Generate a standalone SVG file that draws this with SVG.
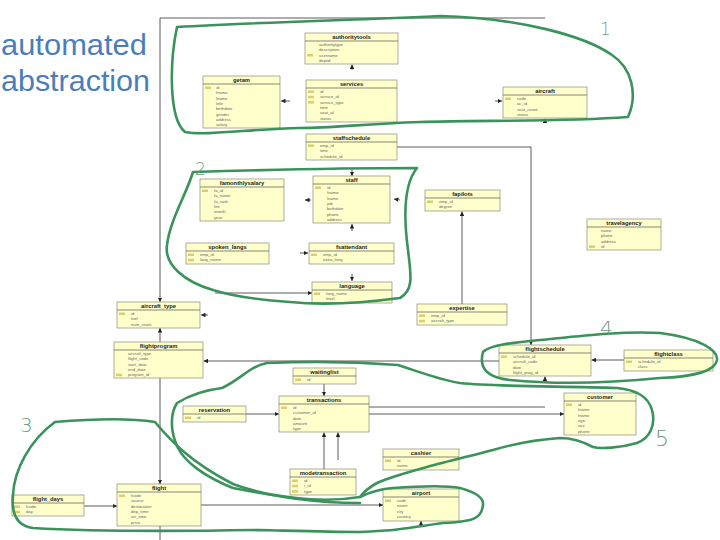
<svg xmlns="http://www.w3.org/2000/svg" width="720" height="540" viewBox="0 0 720 540">
<style>
.b{fill:#ffffcc;stroke:#8c8c78;stroke-width:.7}
.hd{stroke:#555;stroke-width:.7}
.t{font-family:"Liberation Sans",Arial,sans-serif;font-weight:bold;font-size:5.8px;fill:#222;text-anchor:middle}
.a{font-family:"Liberation Sans",Arial,sans-serif;font-size:4.2px;fill:#666}
.k{fill:#dccd70}
.c{fill:none;stroke:#333;stroke-width:.8}
.g{fill:none;stroke:#3a935a;stroke-width:2.6;stroke-linejoin:round;stroke-linecap:round}
.n{font-family:"DejaVu Sans",sans-serif;font-weight:300;fill:#6f9a80}
</style>
<defs>
<marker id="ar" viewBox="0 0 8 8" refX="8" refY="4" markerWidth="4.5" markerHeight="4.5" orient="auto-start-reverse" markerUnits="userSpaceOnUse"><path d="M0,0 L8,4 L0,8 z" fill="#222"/></marker>
</defs>
<rect width="720" height="540" fill="#fff"/>
<text x="1" y="55" font-family="Liberation Sans,Arial,sans-serif" font-size="30" fill="#4a7ebb" textLength="146" lengthAdjust="spacingAndGlyphs">automated</text>
<text x="1" y="91" font-family="Liberation Sans,Arial,sans-serif" font-size="30" fill="#4a7ebb" textLength="149" lengthAdjust="spacingAndGlyphs">abstraction</text>

<g id="connectors">
<path class="c" d="M545,18 L160,18 L160,302" marker-end="url(#ar)"/>
<path class="c" d="M160,342 L160,328" marker-end="url(#ar)"/>
<path class="c" d="M160,378 L160,484" marker-end="url(#ar)"/>
<path class="c" d="M160,526 L160,540"/>
<path class="c" d="M352,70 L352,64.5" marker-end="url(#ar)"/>
<path class="c" d="M290,101 L281,101" marker-end="url(#ar)"/>
<path class="c" d="M495,101 L502,101" marker-end="url(#ar)"/>
<path class="c" d="M545,123 L545,118.5" marker-end="url(#ar)"/>
<path class="c" d="M397,147 L531,147 L531,345" marker-end="url(#ar)"/>
<path class="c" d="M352,168 L352,176" marker-end="url(#ar)"/>
<path class="c" d="M311,200 L305,200" marker-end="url(#ar)"/>
<path class="c" d="M400,200 L394,199" marker-end="url(#ar)"/>
<path class="c" d="M352,231 L352,224" marker-end="url(#ar)"/>
<path class="c" d="M462,304 L462,211.5" marker-end="url(#ar)"/>
<path class="c" d="M300,253 L308,253" marker-end="url(#ar)"/>
<path class="c" d="M352,274 L352,281" marker-end="url(#ar)"/>
<path class="c" d="M215,293 L312,293" marker-end="url(#ar)"/>
<path class="c" d="M208,315 L201,315" marker-end="url(#ar)"/>
<path class="c" d="M499,361 L203.5,361" marker-end="url(#ar)"/>
<path class="c" d="M624,360 L591.5,360" marker-end="url(#ar)"/>
<path class="c" d="M545,383 L545,376.5" marker-end="url(#ar)"/>
<path class="c" d="M324,384 L324,396" marker-end="url(#ar)"/>
<path class="c" d="M246,414 L279,414" marker-end="url(#ar)"/>
<path class="c" d="M369,407 L545,407"/>
<path class="c" d="M369,414 L564,414" marker-end="url(#ar)"/>
<path class="c" d="M324,469 L324,432.5" marker-end="url(#ar)"/>
<path class="c" d="M338,460 L338,432.5" marker-end="url(#ar)"/>
<path class="c" d="M84,506 L117,506" marker-end="url(#ar)"/>
<path class="c" d="M201,505 L383,505" marker-end="url(#ar)"/>
<path class="c" d="M421,527 L421,521" marker-end="url(#ar)"/>
</g>

<g id="authoritytools"><rect class="b" x="305" y="33" width="93" height="31"/><line class="hd" x1="305" y1="41" x2="398" y2="41"/><text class="t" x="351.5" y="39">authoritytools</text><text class="a" x="319" y="46">authoritytype</text><text class="a" x="319" y="51.3">description</text><rect class="k" x="307" y="54" width="6" height="2.5"/><text class="a" x="319" y="56.6">username</text><text class="a" x="319" y="61.9">deptid</text></g>

<g id="getam"><rect class="b" x="203" y="76" width="77" height="52"/><line class="hd" x1="203" y1="84" x2="280" y2="84"/><text class="t" x="241.5" y="82">getam</text><rect class="k" x="205" y="86.5" width="6" height="2.5"/><text class="a" x="216" y="89">id</text><text class="a" x="216" y="94.3">fname</text><text class="a" x="216" y="99.6">lname</text><text class="a" x="216" y="104.9">tele</text><text class="a" x="216" y="110.2">birthdate</text><text class="a" x="216" y="115.5">gender</text><text class="a" x="216" y="120.8">address</text><text class="a" x="216" y="126.1">salary</text></g>

<g id="services"><rect class="b" x="306" y="80" width="91" height="42"/><line class="hd" x1="306" y1="88" x2="397" y2="88"/><text class="t" x="351.5" y="86">services</text><rect class="k" x="308" y="90.5" width="6" height="2.5"/><text class="a" x="320" y="93">id</text><rect class="k" x="308" y="95.8" width="6" height="2.5"/><text class="a" x="320" y="98.3">service_id</text><rect class="k" x="308" y="101.1" width="6" height="2.5"/><text class="a" x="320" y="103.6">service_type</text><text class="a" x="320" y="108.9">time</text><text class="a" x="320" y="114.2">seat_id</text><text class="a" x="320" y="119.5">status</text></g>

<g id="aircraft"><rect class="b" x="503" y="87" width="84" height="31"/><line class="hd" x1="503" y1="95" x2="587" y2="95"/><text class="t" x="545" y="93">aircraft</text><rect class="k" x="505" y="97.5" width="6" height="2.5"/><text class="a" x="517" y="100">code</text><text class="a" x="517" y="105.3">ac_id</text><text class="a" x="517" y="110.6">seat_count</text><text class="a" x="517" y="115.9">status</text></g>

<g id="staffschedule"><rect class="b" x="306" y="134" width="91" height="26"/><line class="hd" x1="306" y1="142" x2="397" y2="142"/><text class="t" x="351.5" y="140">staffschedule</text><rect class="k" x="308" y="144.5" width="6" height="2.5"/><text class="a" x="320" y="147">emp_id</text><text class="a" x="320" y="152.3">time</text><text class="a" x="320" y="157.6">schedule_id</text></g>

<g id="staff"><rect class="b" x="313" y="176" width="77" height="47"/><line class="hd" x1="313" y1="184" x2="390" y2="184"/><text class="t" x="351.5" y="182">staff</text><rect class="k" x="315" y="186.5" width="6" height="2.5"/><text class="a" x="327" y="189">id</text><text class="a" x="327" y="194.3">fname</text><text class="a" x="327" y="199.6">lname</text><text class="a" x="327" y="204.9">job</text><text class="a" x="327" y="210.2">birthdate</text><text class="a" x="327" y="215.5">phone</text><text class="a" x="327" y="220.8">address</text></g>

<g id="famonthlysalary"><rect class="b" x="200" y="179" width="84" height="42"/><line class="hd" x1="200" y1="187" x2="284" y2="187"/><text class="t" x="242" y="185">famonthlysalary</text><rect class="k" x="202" y="189.5" width="6" height="2.5"/><text class="a" x="214" y="192">fa_id</text><text class="a" x="214" y="197.3">fa_name</text><text class="a" x="214" y="202.6">fa_rank</text><text class="a" x="214" y="207.9">fee</text><text class="a" x="214" y="213.2">month</text><text class="a" x="214" y="218.5">year</text></g>

<g id="fapilots"><rect class="b" x="425" y="190" width="75" height="21"/><line class="hd" x1="425" y1="198" x2="500" y2="198"/><text class="t" x="462.5" y="196">fapilots</text><rect class="k" x="427" y="200.5" width="6" height="2.5"/><text class="a" x="439" y="203">emp_id</text><text class="a" x="439" y="208.3">degree</text></g>

<g id="travelagency"><rect class="b" x="587" y="219" width="74" height="31"/><line class="hd" x1="587" y1="227" x2="661" y2="227"/><text class="t" x="624" y="225">travelagency</text><text class="a" x="601" y="232">name</text><text class="a" x="601" y="237.3">phone</text><text class="a" x="601" y="242.6">address</text><rect class="k" x="589" y="245.4" width="6" height="2.5"/><text class="a" x="601" y="247.9">id</text></g>

<g id="spoken_langs"><rect class="b" x="186" y="243" width="83" height="21"/><line class="hd" x1="186" y1="251" x2="269" y2="251"/><text class="t" x="227.5" y="249">spoken_langs</text><rect class="k" x="188" y="253.5" width="6" height="2.5"/><text class="a" x="200" y="256">emp_id</text><rect class="k" x="188" y="258.8" width="6" height="2.5"/><text class="a" x="200" y="261.3">lang_name</text></g>

<g id="fsattendant"><rect class="b" x="309" y="243" width="85" height="21"/><line class="hd" x1="309" y1="251" x2="394" y2="251"/><text class="t" x="351.5" y="249">fsattendant</text><rect class="k" x="311" y="253.5" width="6" height="2.5"/><text class="a" x="323" y="256">emp_id</text><text class="a" x="323" y="261.3">extra_lang</text></g>

<g id="language"><rect class="b" x="312" y="282" width="80" height="21"/><line class="hd" x1="312" y1="290" x2="392" y2="290"/><text class="t" x="352" y="288">language</text><rect class="k" x="314" y="292.5" width="6" height="2.5"/><text class="a" x="326" y="295">lang_name</text><text class="a" x="326" y="300.3">level</text></g>

<g id="expertise"><rect class="b" x="417" y="304" width="90" height="21"/><line class="hd" x1="417" y1="312" x2="507" y2="312"/><text class="t" x="462" y="310">expertise</text><rect class="k" x="419" y="314.5" width="6" height="2.5"/><text class="a" x="431" y="317">emp_id</text><rect class="k" x="419" y="319.8" width="6" height="2.5"/><text class="a" x="431" y="322.3">aircraft_type</text></g>

<g id="aircraft_type"><rect class="b" x="117" y="302" width="83" height="26"/><line class="hd" x1="117" y1="310" x2="200" y2="310"/><text class="t" x="158.5" y="308">aircraft_type</text><rect class="k" x="119" y="312.5" width="6" height="2.5"/><text class="a" x="131" y="315">id</text><text class="a" x="131" y="320.3">fuel</text><text class="a" x="131" y="325.6">num_seats</text></g>

<g id="flightprogram"><rect class="b" x="114" y="342" width="89" height="36"/><line class="hd" x1="114" y1="350" x2="203" y2="350"/><text class="t" x="158.5" y="348">flightprogram</text><text class="a" x="128" y="355">aircraft_type</text><text class="a" x="128" y="360.3">flight_code</text><text class="a" x="128" y="365.6">start_date</text><text class="a" x="128" y="370.9">end_date</text><rect class="k" x="116" y="373.7" width="6" height="2.5"/><text class="a" x="128" y="376.2">program_id</text></g>

<g id="flightschedule"><rect class="b" x="499" y="345" width="92" height="31"/><line class="hd" x1="499" y1="353" x2="591" y2="353"/><text class="t" x="545" y="351">flightschedule</text><rect class="k" x="501" y="355.5" width="6" height="2.5"/><text class="a" x="513" y="358">schedule_id</text><text class="a" x="513" y="363.3">aircraft_code</text><text class="a" x="513" y="368.6">date</text><text class="a" x="513" y="373.9">flight_prog_id</text></g>

<g id="flightclass"><rect class="b" x="624" y="350" width="89" height="21"/><line class="hd" x1="624" y1="358" x2="713" y2="358"/><text class="t" x="668.5" y="356">flightclass</text><rect class="k" x="626" y="360.5" width="6" height="2.5"/><text class="a" x="638" y="363">schedule_id</text><text class="a" x="638" y="368.3">class</text></g>

<g id="waitinglist"><rect class="b" x="293" y="368" width="63" height="16"/><line class="hd" x1="293" y1="376" x2="356" y2="376"/><text class="t" x="324.5" y="374">waitinglist</text><rect class="k" x="295" y="378.5" width="6" height="2.5"/><text class="a" x="307" y="381">id</text></g>

<g id="transactions"><rect class="b" x="279" y="396" width="90" height="36"/><line class="hd" x1="279" y1="404" x2="369" y2="404"/><text class="t" x="324" y="402">transactions</text><rect class="k" x="281" y="406.5" width="6" height="2.5"/><text class="a" x="293" y="409">id</text><text class="a" x="293" y="414.3">customer_id</text><text class="a" x="293" y="419.6">date</text><text class="a" x="293" y="424.9">amount</text><text class="a" x="293" y="430.2">type</text></g>

<g id="reservation"><rect class="b" x="183" y="406" width="63" height="16"/><line class="hd" x1="183" y1="414" x2="246" y2="414"/><text class="t" x="214.5" y="412">reservation</text><rect class="k" x="185" y="416.5" width="6" height="2.5"/><text class="a" x="197" y="419">id</text></g>

<g id="customer"><rect class="b" x="564" y="393" width="72" height="42"/><line class="hd" x1="564" y1="401" x2="636" y2="401"/><text class="t" x="600" y="399">customer</text><rect class="k" x="566" y="403.5" width="6" height="2.5"/><text class="a" x="578" y="406">id</text><text class="a" x="578" y="411.3">fname</text><text class="a" x="578" y="416.6">lname</text><text class="a" x="578" y="421.9">age</text><text class="a" x="578" y="427.2">sex</text><text class="a" x="578" y="432.5">phone</text></g>

<g id="cashier"><rect class="b" x="383" y="449" width="76" height="21"/><line class="hd" x1="383" y1="457" x2="459" y2="457"/><text class="t" x="421" y="455">cashier</text><rect class="k" x="385" y="459.5" width="6" height="2.5"/><text class="a" x="397" y="462">id</text><text class="a" x="397" y="467.3">name</text></g>

<g id="modetransaction"><rect class="b" x="290" y="469" width="66" height="26"/><line class="hd" x1="290" y1="477" x2="356" y2="477"/><text class="t" x="323" y="475">modetransaction</text><rect class="k" x="292" y="479.5" width="6" height="2.5"/><text class="a" x="304" y="482">id</text><rect class="k" x="292" y="484.8" width="6" height="2.5"/><text class="a" x="304" y="487.3">t_id</text><rect class="k" x="292" y="490.1" width="6" height="2.5"/><text class="a" x="304" y="492.6">type</text></g>

<g id="flight"><rect class="b" x="117" y="484" width="84" height="42"/><line class="hd" x1="117" y1="492" x2="201" y2="492"/><text class="t" x="159" y="490">flight</text><rect class="k" x="119" y="494.5" width="6" height="2.5"/><text class="a" x="131" y="497">fcode</text><text class="a" x="131" y="502.3">source</text><text class="a" x="131" y="507.6">destination</text><text class="a" x="131" y="512.9">dep_time</text><text class="a" x="131" y="518.2">arr_time</text><text class="a" x="131" y="523.5">price</text></g>

<g id="flight_days"><rect class="b" x="12" y="495" width="72" height="21"/><line class="hd" x1="12" y1="503" x2="84" y2="503"/><text class="t" x="48" y="501">flight_days</text><rect class="k" x="14" y="505.5" width="6" height="2.5"/><text class="a" x="26" y="508">fcode</text><rect class="k" x="14" y="510.8" width="6" height="2.5"/><text class="a" x="26" y="513.3">day</text></g>

<g id="airport"><rect class="b" x="383" y="489" width="76" height="32"/><line class="hd" x1="383" y1="497" x2="459" y2="497"/><text class="t" x="421" y="495">airport</text><rect class="k" x="385" y="499.5" width="6" height="2.5"/><text class="a" x="397" y="502">code</text><text class="a" x="397" y="507.3">name</text><text class="a" x="397" y="512.6">city</text><text class="a" x="397" y="517.9">country</text></g>

<g id="outlines">
<path class="g" d="M177,27 C260,22 360,20 440,16 C520,18 585,36 612,55 C632,68 638,95 628,117 C560,122 480,120 420,122 C360,124 335,128 300,128 C250,129 205,136 185,132 C168,118 170,60 177,27 Z"/>
<path class="g" d="M193,172 C260,170 350,168 417,168 C403,185 404,220 408,250 C411,275 414,290 400,298 C370,302 330,306 290,302 C260,300 232,296 213,290 C185,282 164,265 167,245 C170,220 186,195 193,172 Z"/>
<path class="g" d="M483,352 C490,345 510,343 540,340 C580,336 620,331 660,333 C700,338 718,350 717,360 C715,372 690,377 660,378 C620,382 560,385 510,380 C490,378 478,370 483,352 Z"/>
<path class="g" d="M55,422 C90,419 130,418 155,422 C170,440 190,462 233,484 C270,498 320,503 360,503"/>
<path class="g" d="M55,422 C30,440 14,470 13,495 C11,515 18,526 33,528 C100,532 200,531 260,530 C300,531 330,532 360,532"/>
<path class="g" d="M177,403 C190,395 205,390 222,388 C240,380 250,366 267,363 C310,361 360,362 398,365 C420,372 440,380 460,383 C500,387 560,386 617,388 C636,390 648,396 652,410 C656,425 650,438 637,443 C620,448 600,449 593,447 C580,440 570,438 560,438 C530,440 510,445 493,450 C470,456 445,462 427,467 C405,473 388,478 377,483 C368,488 363,493 360,497 C330,502 300,501 233,488 C205,477 185,462 178,448 C170,432 170,414 177,403 Z"/>
<path class="g" d="M360,497 C370,492 380,489 393,488 C420,486 445,485 460,488 C475,492 484,497 483,505 C482,512 480,517 470,520 C460,522 450,523 443,523 C420,526 405,529 393,530 C380,531 370,532 360,532"/>
</g>
<text class="n" x="600" y="35" font-size="17">1</text>
<text class="n" x="195" y="175" font-size="17">2</text>
<text class="n" x="20" y="432" font-size="20">3</text>
<text class="n" x="600" y="335" font-size="20">4</text>
<text class="n" x="655" y="446" font-size="22">5</text>
</svg>
